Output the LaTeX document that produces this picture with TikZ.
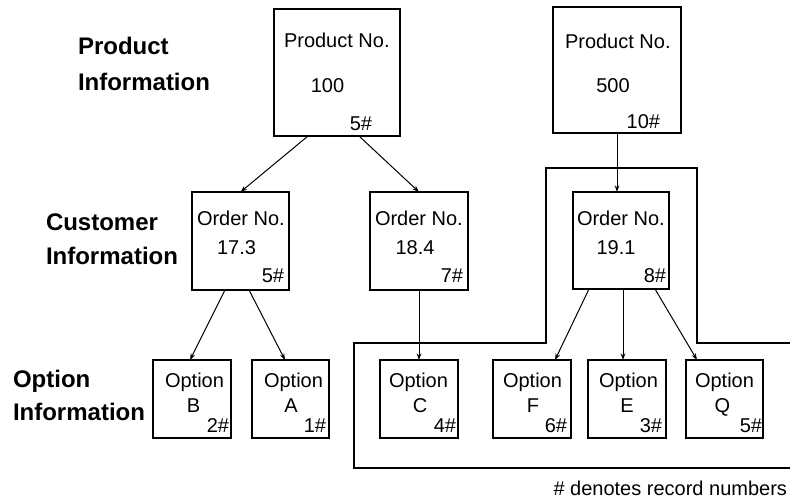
\documentclass[tikz,border=0pt]{standalone}
\usepackage{fontspec}
\setmainfont{Liberation Sans}
\usetikzlibrary{arrows.meta}
\begin{document}
\begin{tikzpicture}[x=0.75pt,y=-0.75pt,
  box/.style 2 args={draw, line width=0.8pt, inner sep=0pt, outer sep=0pt, anchor=north west,
    minimum width=#1*0.75pt, minimum height=#2*0.75pt},
  txt/.style={inner sep=0pt, outer sep=0pt, font=\fontsize{15}{18}\selectfont},
  lab/.style={inner sep=0pt, outer sep=0pt, anchor=base west, font=\bfseries\fontsize{18}{21}\selectfont},
  arr/.style={-{Stealth[length=5pt,width=3.5pt]}, line width=0.75pt},
  frame/.style={line width=0.8pt}]
\useasboundingbox (0,0) rectangle (790,501);

% level labels
\node[lab] (l1a) at (78,54) {Product};
\node[lab] (l1b) at (78,90) {Information};
\node[lab] (l2a) at (46,230) {Customer};
\node[lab] (l2b) at (46,264) {Information};
\node[lab] (l3a) at (13,387) {Option};
\node[lab] (l3b) at (13,420) {Information};

% product boxes
\node[box={126}{127}] (p100) at (274,9) {};
\node[box={128}{126}] (p500) at (553,7) {};
% order boxes
\node[box={97}{98}] (o173) at (192,192) {};
\node[box={98}{98}] (o184) at (370,192) {};
\node[box={96}{97}] (o191) at (573,192) {};
% option boxes
\node[box={78}{78}] (ob) at (153,360) {};
\node[box={77}{78}] (oa) at (252,360) {};
\node[box={78}{78}] (oc) at (380,360) {};
\node[box={78}{78}] (of) at (493,360) {};
\node[box={78}{78}] (oe) at (588,360) {};
\node[box={77}{78}] (oq) at (686,360) {};

% texts in product boxes
\node[txt, anchor=base west] (t1) at (284,47) {Product No.};
\node[txt, anchor=base] (t2) at (327.5,92) {100};
\node[txt, anchor=base east] (t3) at (372,130) {5\#};
\node[txt, anchor=base west] (t4) at (565,48) {Product No.};
\node[txt, anchor=base] (t5) at (613,92) {500};
\node[txt, anchor=base east] (t6) at (660,128) {10\#};

% texts in order boxes
\node[txt, anchor=base west] (t7) at (197,225) {Order No.};
\node[txt, anchor=base] (t8) at (236.5,254) {17.3};
\node[txt, anchor=base east] (t9) at (284,282) {5\#};
\node[txt, anchor=base west] (t10) at (375,225) {Order No.};
\node[txt, anchor=base] (t11) at (415,254) {18.4};
\node[txt, anchor=base east] (t12) at (463,282) {7\#};
\node[txt, anchor=base west] (t13) at (577,225) {Order No.};
\node[txt, anchor=base] (t14) at (616,254) {19.1};
\node[txt, anchor=base east] (t15) at (666,282) {8\#};

% texts in option boxes
\node[txt, anchor=base] (b1) at (194.5,387) {Option};
\node[txt, anchor=base] (b2) at (193.5,412) {B};
\node[txt, anchor=base east] (b3) at (229,432) {2\#};
\node[txt, anchor=base] (a1) at (293.5,387) {Option};
\node[txt, anchor=base] (a2) at (291,412) {A};
\node[txt, anchor=base east] (a3) at (326,432) {1\#};
\node[txt, anchor=base] (c1) at (418.5,387) {Option};
\node[txt, anchor=base] (c2) at (420,412) {C};
\node[txt, anchor=base east] (c3) at (456,432) {4\#};
\node[txt, anchor=base] (f1) at (532.5,387) {Option};
\node[txt, anchor=base] (f2) at (533,412) {F};
\node[txt, anchor=base east] (f3) at (567,432) {6\#};
\node[txt, anchor=base] (e1) at (628.5,387) {Option};
\node[txt, anchor=base] (e2) at (627,412) {E};
\node[txt, anchor=base east] (e3) at (662,432) {3\#};
\node[txt, anchor=base] (q1) at (724.5,387) {Option};
\node[txt, anchor=base] (q2) at (722.5,412) {Q};
\node[txt, anchor=base east] (q3) at (762,432) {5\#};

% footer
\node[txt, anchor=base east] (foot) at (787,495) {\# denotes record numbers};

% connectors
\draw[arr] ([xshift=-21.75pt]p100.south) -- (o173.north);
\draw[arr] ([xshift=16.5pt]p100.south) -- (o184.north);
\draw[arr] (p500.south) -- (p500.south |- o191.north);
\draw[arr] ([xshift=-11.6pt]o173.south) -- ([xshift=-1.5pt]ob.north);
\draw[arr] ([xshift=6.4pt]o173.south) -- ([xshift=-4.1pt]oa.north);
\draw[arr] (o184.south) -- (oc.north);
\draw[arr] ([xshift=-24pt]o191.south) -- ([xshift=17.25pt]of.north);
\draw[arr] ([xshift=1.5pt]o191.south) -- ([xshift=1.5pt]o191.south |- oe.north);
\draw[arr] ([xshift=25.5pt]o191.south) -- ([xshift=-20.6pt]oq.north);

% enclosing frame
\draw[frame] (790,343) -- (697,343) -- (697,168) -- (546,168) -- (546,343)
  -- (354,343) -- (354,468) -- (790,468);
\end{tikzpicture}
\end{document}
